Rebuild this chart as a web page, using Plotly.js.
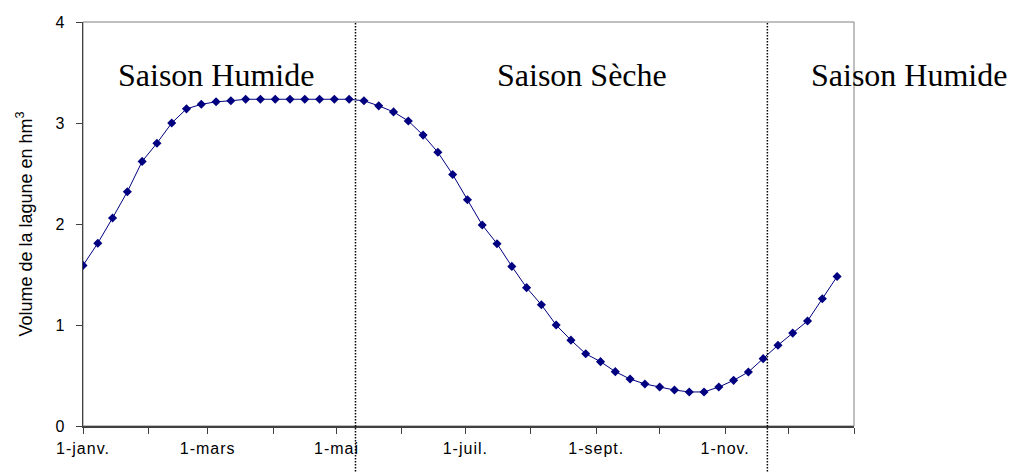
<!DOCTYPE html>
<html>
<head>
<meta charset="utf-8">
<script src="https://cdn.plot.ly/plotly-3.0.1.min.js"></script>
<style>
html,body{margin:0;padding:0;background:#fff;}
#chart{width:1011px;height:472px;}
.xtick text{letter-spacing:1px;}
</style>
</head>
<body>
<div id="chart"></div>
<script>
// Weekly dates (non-leap year)
const dates = [
 "2003-01-01","2003-01-08","2003-01-15","2003-01-22","2003-01-29",
 "2003-02-05","2003-02-12","2003-02-19","2003-02-26",
 "2003-03-05","2003-03-12","2003-03-19","2003-03-26",
 "2003-04-02","2003-04-09","2003-04-16","2003-04-23","2003-04-30",
 "2003-05-07","2003-05-14","2003-05-21","2003-05-28",
 "2003-06-04","2003-06-11","2003-06-18","2003-06-25",
 "2003-07-02","2003-07-09","2003-07-16","2003-07-23","2003-07-30",
 "2003-08-06","2003-08-13","2003-08-20","2003-08-27",
 "2003-09-03","2003-09-10","2003-09-17","2003-09-24",
 "2003-10-01","2003-10-08","2003-10-15","2003-10-22","2003-10-29",
 "2003-11-05","2003-11-12","2003-11-19","2003-11-26",
 "2003-12-03","2003-12-10","2003-12-17","2003-12-24"
];
// Lagoon volume (hm3)
const volume = [
 1.59, 1.81, 2.06, 2.32, 2.62, 2.80, 3.00, 3.14, 3.185, 3.21,
 3.22, 3.235, 3.235, 3.235, 3.235, 3.235, 3.235, 3.235, 3.235, 3.22,
 3.17, 3.11, 3.02, 2.88, 2.71, 2.49, 2.24, 1.99, 1.805, 1.58,
 1.37, 1.20, 1.00, 0.85, 0.715, 0.637, 0.538, 0.465, 0.416, 0.386,
 0.356, 0.337, 0.337, 0.386, 0.452, 0.535, 0.667, 0.80, 0.92, 1.04,
 1.26, 1.48
];
// Month ticks and labels
const tickDates = ["2003-01-01","2003-02-01","2003-03-01","2003-04-01","2003-05-01","2003-06-01",
 "2003-07-01","2003-08-01","2003-09-01","2003-10-01","2003-11-01","2003-12-01","2004-01-01"];
const tickLabels = ["1-janv.","","1-mars","","1-mai","","1-juil.","","1-sept.","","1-nov.","",""];
const yTicks = [0,1,2,3,4];
// Season boundaries and labels
const seasonBounds = ["2003-05-10","2003-11-21"];
const seasonLabels = ["Saison Humide","Saison Sèche","Saison Humide"];
const seasonLabelX = [0.1725, 0.647, 1.071];

const trace = {
  x: dates, y: volume, type: 'scatter', mode: 'lines+markers',
  line: {color: '#000080', width: 1},
  marker: {symbol: 'diamond', size: 7, color: '#000080'},
  hoverinfo: 'skip'
};

const shapes = [
  {type:'rect', xref:'paper', yref:'paper', x0:0, x1:1, y0:0, y1:1,
   line:{color:'#808080', width:1}, fillcolor:'rgba(0,0,0,0)', layer:'below'}
];
seasonBounds.forEach(d => shapes.push({
  type:'line', xref:'x', yref:'paper', x0:d, x1:d, y0:-0.12, y1:1,
  line:{color:'#000', width:1.5, dash:'1.5px,1.5px'}
}));

const annotations = seasonLabels.map((t,i) => ({
  text: t, xref:'paper', yref:'paper', x: seasonLabelX[i], y: 0.869,
  xanchor:'center', yanchor:'middle', showarrow:false,
  font:{family:'"Liberation Serif", "Times New Roman", serif', size:32, color:'#000'}
}));

const layout = {
  width: 1011, height: 472,
  margin: {l:83, r:157, t:22, b:46},
  paper_bgcolor:'#fff', plot_bgcolor:'#fff',
  showlegend:false,
  font:{family:'"Liberation Sans", Arial, sans-serif', color:'#000'},
  xaxis: {
    type:'date', range:['2003-01-01','2004-01-01'],
    tickmode:'array', tickvals: tickDates, ticktext: tickLabels,
    ticks:'outside', ticklen:6, tickcolor:'#404040', tickwidth:1,
    showline:true, linecolor:'#404040', linewidth:1.5,
    showgrid:false, zeroline:false,
    tickfont:{size:16, color:'#000'}, ticklabelstandoff:1
  },
  yaxis: {
    range:[0,4], tickmode:'array', tickvals:yTicks,
    ticks:'outside', ticklen:6, tickcolor:'#404040', tickwidth:1,
    showline:true, linecolor:'#404040', linewidth:1.5,
    showgrid:false, zeroline:false,
    tickfont:{size:16, color:'#000'}, ticklabelstandoff:8,
    title:{text:'Volume de la lagune en hm<sup>3</sup>', font:{size:18, color:'#000'}, standoff:18}
  },
  shapes: shapes,
  annotations: annotations
};

Plotly.newPlot('chart', [trace], layout, {staticPlot:true, displayModeBar:false});
</script>
</body>
</html>
